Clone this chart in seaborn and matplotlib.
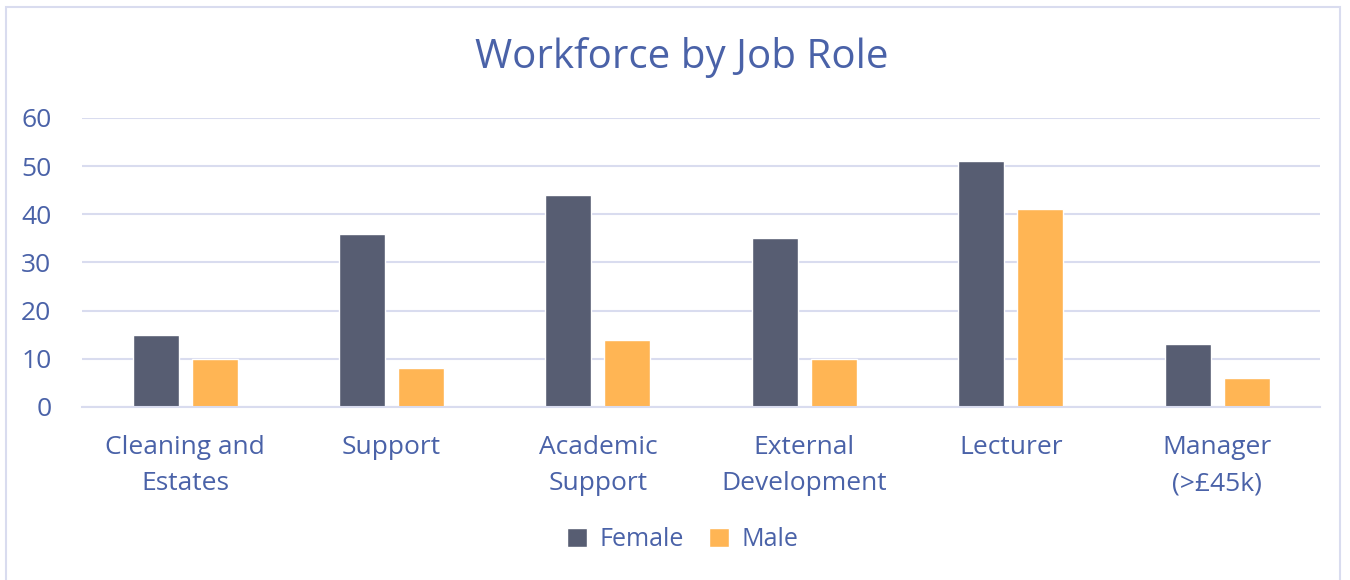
import matplotlib
matplotlib.use('Agg')
import matplotlib.pyplot as plt
import seaborn as sns
import pandas as pd
from matplotlib.patches import Rectangle

roles = ['Cleaning and\nEstates', 'Support', 'Academic\nSupport', 'External\nDevelopment',
         'Lecturer', 'Manager\n(>£45k)']
female = [15, 36, 44, 35, 51, 13]
male = [10, 8, 14, 10, 41, 6]
y_ticks = [0, 10, 20, 30, 40, 50, 60]

text_col = '#4a62a8'
grid_col = '#d9dcef'
palette = {'Female': '#575d72', 'Male': '#ffb554'}

df = pd.DataFrame({
    'role': roles * 2,
    'gender': ['Female'] * len(roles) + ['Male'] * len(roles),
    'count': female + male,
})

sns.set_theme(style='white')
plt.rcParams['font.family'] = ['Open Sans', 'DejaVu Sans']

fig = plt.figure(figsize=(13.5, 5.8), dpi=100)
ax = fig.add_axes([0.0607, 0.2983, 0.9173, 0.4983])

sns.barplot(data=df, x='role', y='count', hue='gender', palette=palette,
            width=0.572, gap=0.22, ax=ax, saturation=1, legend=True)

ax.set_ylim(0, 60)
ax.set_yticks(y_ticks)
ax.set_xlim(-0.5, len(roles) - 0.5)
ax.yaxis.grid(True, color=grid_col, linewidth=1.5)
ax.set_axisbelow(True)
for s in ['top', 'right', 'left']:
    ax.spines[s].set_visible(False)
ax.spines['bottom'].set_color(grid_col)
ax.spines['bottom'].set_linewidth(1.5)
ax.tick_params(axis='y', length=0, labelsize=19, labelcolor=text_col, pad=22)
ax.tick_params(axis='x', length=0, labelsize=19, labelcolor=text_col, pad=20)
for lbl in ax.get_xticklabels():
    lbl.set_linespacing(1.6)
ax.set_xlabel('')
ax.set_ylabel('')

fig.text(0.505, 0.9, 'Workforce by Job Role', ha='center', va='center',
         fontsize=29, color=text_col)

ax.legend(loc='center', bbox_to_anchor=(0.485, -0.46), ncol=2, frameon=False,
          fontsize=18, labelcolor=text_col, handlelength=0.8, handleheight=0.8,
          columnspacing=1.0, handletextpad=0.5)

fig.patches.append(Rectangle((6 / 1350, -0.01), 1334 / 1350, 1 - 7 / 580 + 0.01,
                             transform=fig.transFigure, fill=False,
                             edgecolor='#d9dcef', linewidth=1.5))

fig.savefig('out.png', dpi=100)
